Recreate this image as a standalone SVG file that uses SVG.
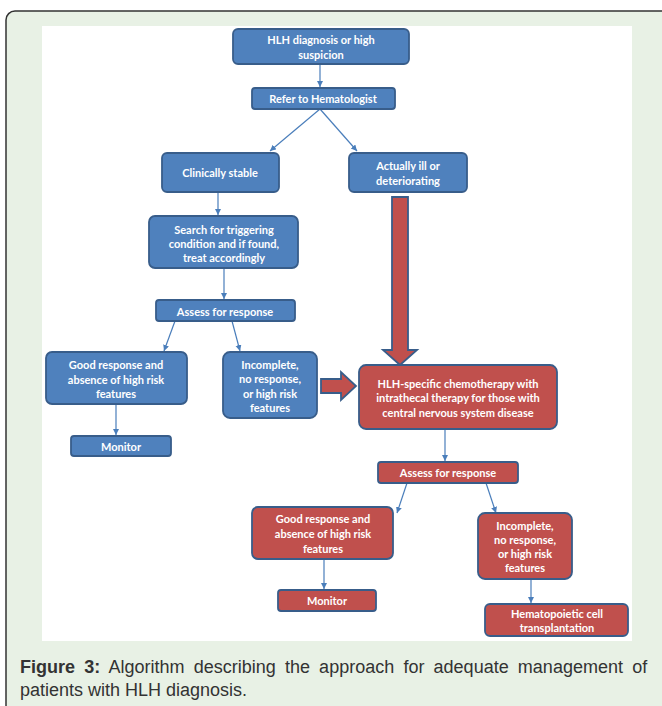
<svg xmlns="http://www.w3.org/2000/svg" width="662" height="706" viewBox="0 0 662 706">
<defs>
<style>
.b{fill:#4f81bd;stroke:#385d8a;stroke-width:1.8}
.r{fill:#c0504d;stroke:#385d8a;stroke-width:1.8}
.t{font-family:Lato,"Liberation Sans",sans-serif;font-weight:bold;font-size:11px;fill:#fff;text-anchor:middle;dominant-baseline:central}
.c{stroke:#4a7ebb;stroke-width:1.2;fill:none;marker-end:url(#ah)}
.cap{font-family:"Liberation Sans",Arial,sans-serif;font-size:18px;fill:#333}
</style>
<marker id="ah" markerWidth="8" markerHeight="8" refX="6" refY="3" orient="auto" markerUnits="userSpaceOnUse">
<path d="M0,0 L6,3 L0,6 z" fill="#4a7ebb"/>
</marker>
</defs>
<rect x="0" y="0" width="662" height="706" fill="#fff"/>
<rect x="6" y="11" width="680" height="720" rx="9" fill="#e8f1e5" stroke="#333" stroke-width="1.5"/>
<rect x="42" y="26" width="590" height="615" fill="#fff"/>

<g id="connectors">
<line class="c" x1="320" y1="63" x2="320" y2="87"/>
<line class="c" x1="320" y1="109" x2="270" y2="151"/>
<line class="c" x1="320" y1="109" x2="357" y2="151"/>
<line class="c" x1="218" y1="192" x2="218" y2="215"/>
<line class="c" x1="224" y1="268" x2="224" y2="299"/>
<line class="c" x1="175" y1="321" x2="164" y2="351"/>
<line class="c" x1="232" y1="321" x2="240" y2="351"/>
<line class="c" x1="116" y1="404" x2="116" y2="435"/>
<line class="c" x1="445" y1="429" x2="445" y2="461"/>
<line class="c" x1="407" y1="483" x2="397" y2="513"/>
<line class="c" x1="486" y1="483" x2="496" y2="513"/>
<line class="c" x1="324" y1="559" x2="324" y2="589"/>
<line class="c" x1="531" y1="579" x2="531" y2="603"/>
<path id="bigdown" class="r" d="M392,197 H408 V350 H417 L400,365 L383,350 H392 Z"/>
<path id="bigright" class="r" d="M321,379 H341 V372 L356,386 L341,400 V393 H321 Z"/>
</g>

<g id="n1"><rect class="b" x="233" y="29" width="176" height="35" rx="5"/>
<text class="t" x="321" y="39">HLH diagnosis or high</text><text class="t" x="321" y="54">suspicion</text></g>
<g id="n2"><rect class="b" x="252" y="88" width="143" height="21" rx="3"/>
<text class="t" x="323" y="98.5">Refer to Hematologist</text></g>
<g id="n3"><rect class="b" x="162" y="153" width="117" height="39" rx="5"/>
<text class="t" x="220" y="172">Clinically stable</text></g>
<g id="n4"><rect class="b" x="349" y="153" width="118" height="39" rx="5"/>
<text class="t" x="408" y="165">Actually ill or</text><text class="t" x="408" y="180">deteriorating</text></g>
<g id="n5"><rect class="b" x="149" y="216" width="149" height="52" rx="6"/>
<text class="t" x="224" y="229">Search for triggering</text><text class="t" x="224" y="243">condition and if found,</text><text class="t" x="224" y="257">treat accordingly</text></g>
<g id="n6"><rect class="b" x="156" y="300" width="139" height="21" rx="3"/>
<text class="t" x="225" y="311">Assess for response</text></g>
<g id="n7"><rect class="b" x="46" y="352" width="141" height="52" rx="6"/>
<text class="t" x="116" y="364">Good response and</text><text class="t" x="116" y="379">absence of high risk</text><text class="t" x="116" y="393">features</text></g>
<g id="n8"><rect class="b" x="223" y="352" width="94" height="66" rx="7"/>
<text class="t" x="270" y="364">Incomplete,</text><text class="t" x="270" y="378">no response,</text><text class="t" x="270" y="393">or high risk</text><text class="t" x="270" y="407">features</text></g>
<g id="n9"><rect class="b" x="71" y="436" width="100" height="20" rx="3"/>
<text class="t" x="121" y="446.5">Monitor</text></g>
<g id="n10"><rect class="r" x="359" y="365" width="198" height="64" rx="7"/>
<text class="t" x="458" y="383">HLH-specific chemotherapy with</text><text class="t" x="458" y="397">intrathecal therapy for those with</text><text class="t" x="458" y="412">central nervous system disease</text></g>
<g id="n11"><rect class="r" x="378" y="462" width="140" height="21" rx="3"/>
<text class="t" x="448" y="472.5">Assess for response</text></g>
<g id="n12"><rect class="r" x="252" y="507" width="141" height="52" rx="6"/>
<text class="t" x="323" y="518">Good response and</text><text class="t" x="323" y="533">absence of high risk</text><text class="t" x="323" y="548">features</text></g>
<g id="n13"><rect class="r" x="478" y="513" width="94" height="66" rx="7"/>
<text class="t" x="525" y="525">Incomplete,</text><text class="t" x="525" y="539">no response,</text><text class="t" x="525" y="553">or high risk</text><text class="t" x="525" y="567">features</text></g>
<g id="n14"><rect class="r" x="278" y="590" width="98" height="21" rx="3"/>
<text class="t" x="327" y="600.5">Monitor</text></g>
<g id="n15"><rect class="r" x="485" y="604" width="143" height="32" rx="5"/>
<text class="t" x="557" y="613">Hematopoietic cell</text><text class="t" x="557" y="627">transplantation</text></g>

<text class="cap" x="20" y="673" word-spacing="4.2"><tspan font-weight="bold">Figure 3:</tspan> Algorithm describing the approach for adequate management of</text>
<text class="cap" x="20" y="696">patients with HLH diagnosis.</text>
</svg>
